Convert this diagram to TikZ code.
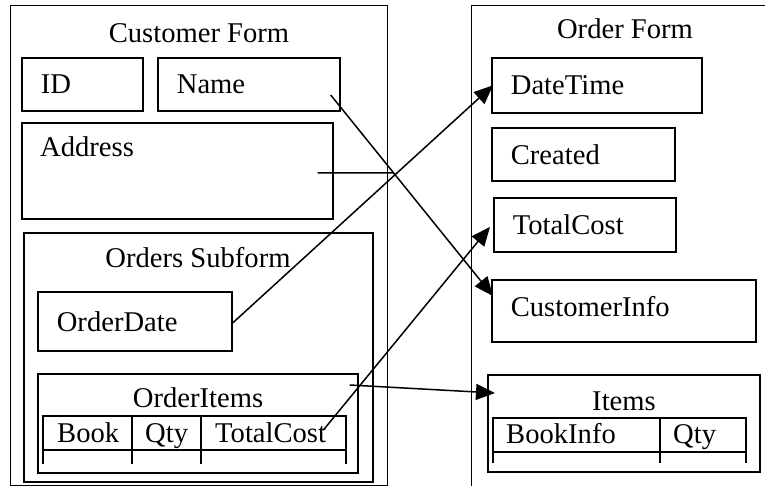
\documentclass[tikz,border=0pt]{standalone}
\usepackage{fontspec}
\setmainfont{Liberation Serif}
\usetikzlibrary{arrows.meta}

\begin{document}
\begin{tikzpicture}[x=1pt,y=-1pt,font=\fontsize{28.6}{34}\selectfont]
		\tikzset{form/.style = {draw, line width=1.2pt, anchor=north west, inner sep=0pt}}
		\tikzset{field/.style = {draw, line width=1.7pt, anchor=north west, inner xsep=19pt, inner ysep=0pt, align=left}}
		\tikzset{caption/.style = {anchor=base, inner sep=0pt}}
		\tikzset{cell/.style = {anchor=base west, inner sep=0pt}}
		\tikzset{grid/.style = {line width=2.2pt}}
		\tikzset{link/.style = {line width=1.5pt, -{Triangle[length=19pt,width=16pt]}}}

		\useasboundingbox (0,0) rectangle (765,486);
		\clip (0,0) rectangle (765,486);

		% customer form
		\node[form, minimum width=377pt, minimum height=480pt] (customer) at (10,5) {};
		\node[caption] (customertitle) at (199,43) {Customer Form};
		\node[field, text width=83pt, minimum height=53pt] (id) at (21,57) {ID};
		\node[field, text width=144pt, minimum height=53pt] (name) at (157,57) {Name};
		\node[field, minimum width=311pt, minimum height=96pt] (address) at (21,122) {};
		\node[cell] (addresstext) at ([shift={(19,35)}]address.north west) {Address};

		\node[field, line width=1.6pt, minimum width=349pt, minimum height=249pt] (subform) at (23,232) {};
		\node[caption] (subformtitle) at (198,267) {Orders Subform};
		\node[field, text width=156pt, minimum height=59pt] (orderdate) at (37,291) {OrderDate};
		\node[field, line width=1.6pt, minimum width=320pt, minimum height=99pt] (orderitems) at (37,373) {};
		\node[caption] (orderitemstitle) at (198,407) {OrderItems};

		\draw[grid] (43,464) -- (43,416) -- (346,416) -- (346,464);
		\draw[grid] (43,450) -- (346,450);
		\draw[grid] (132,416) -- (132,464);
		\draw[grid] (201,416) -- (201,464);
		\node[cell] (book) at (57,442) {Book};
		\node[cell] (qty) at (145,442) {Qty};
		\node[cell] (total) at (215,442) {TotalCost};

		% order form
		\node[form, minimum width=330pt, minimum height=500pt] (order) at (471,5) {};
		\node[caption] (ordertitle) at (625,39) {Order Form};
		\node[field, text width=172pt, minimum height=55pt] (datetime) at (491,57) {DateTime};
		\node[field, text width=145pt, minimum height=53pt] (created) at (491,127) {Created};
		\node[field, text width=144pt, minimum height=54pt] (totalcost) at (493,197) {TotalCost};
		\node[field, text width=226pt, minimum height=62pt, text depth=8pt] (customerinfo) at (491,279) {CustomerInfo};
		\node[field, minimum width=272pt, minimum height=97pt] (items) at (487,374) {};
		\node[caption] (itemstitle) at (624,410) {Items};

		\draw[grid] (493,463) -- (493,418) -- (746,418) -- (746,463);
		\draw[grid] (493,452) -- (746,452);
		\draw[grid] (660,418) -- (660,463);
		\node[cell] (bookinfo) at (506,443) {BookInfo};
		\node[cell] (itemqty) at (673,443) {Qty};

		\coordinate (cut) at (394,173);

		\draw[link] ([shift={(-10,38)}]name.north east) -- ([shift={(2,17)}]customerinfo.north west);
		\draw[line width=1.5pt] ([shift={(-16,2)}]address.east) -- (cut);
		\draw[link] ([shift={(-1,2.5)}]orderdate.east) -- ([xshift=2pt]datetime.west);
		\draw[link] ([shift={(-3,-2)}]total.east) -- ([shift={(-3,2)}]totalcost.west);
		\draw[link] ([shift={(-9,12)}]orderitems.north east) -- ([shift={(8,19)}]items.north west);
	\end{tikzpicture}
\end{document}
